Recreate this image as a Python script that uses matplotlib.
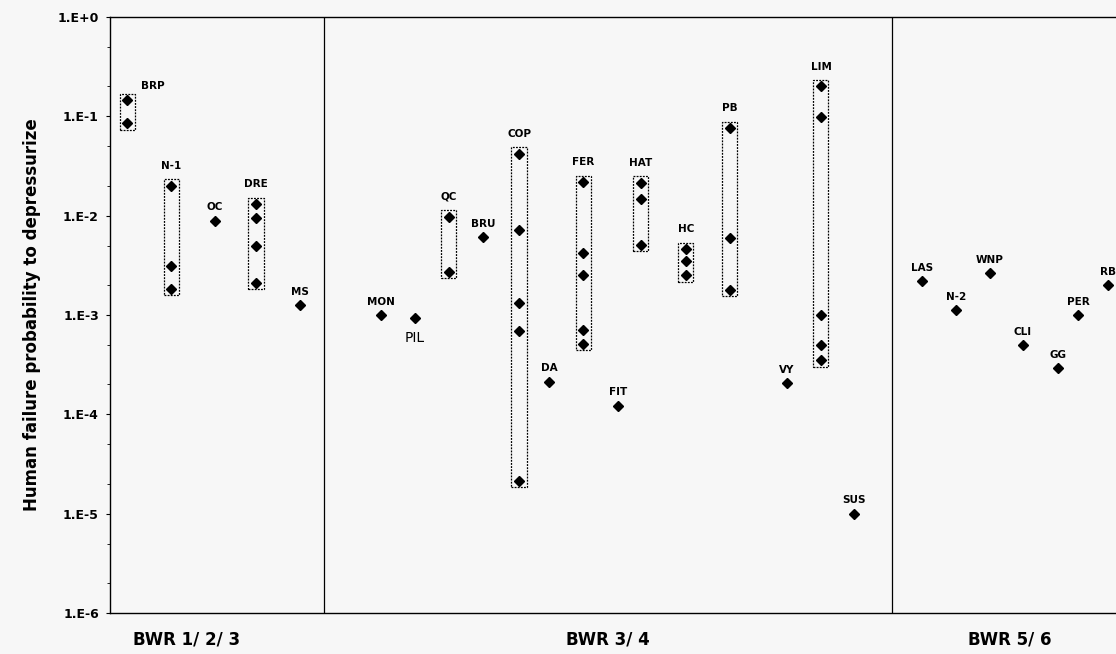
import matplotlib.pyplot as plt
from matplotlib.patches import Rectangle
from matplotlib.ticker import FixedLocator, LogLocator, NullFormatter

# plant codes, horizontal slots and estimated failure probabilities
plants = ["BRP", "N-1", "OC", "DRE", "MS",
          "MON", "PIL", "QC", "BRU", "COP", "DA", "FER", "FIT", "HAT", "HC",
          "PB", "VY", "LIM", "SUS",
          "LAS", "N-2", "WNP", "CLI", "GG", "PER", "RB"]
slots = [17, 61, 105, 146, 190,
         271, 305, 339, 373, 409, 439, 473, 508, 531, 576,
         620, 677, 711, 744,
         812, 846, 880, 913, 948, 968, 998]
values = [
    [0.146, 0.085],
    [0.020, 0.0031, 0.00184],
    [0.0089],
    [0.0131, 0.0095, 0.0049, 0.00212],
    [0.00125],
    [0.00099],
    [0.00093],
    [0.0098, 0.00272],
    [0.0061],
    [0.042, 0.0072, 0.00132, 0.00069, 2.14e-5],
    [0.000213],
    [0.0218, 0.0042, 0.0025, 0.00070, 0.00051],
    [0.000122],
    [0.0214, 0.0148, 0.0051],
    [0.0046, 0.0035, 0.0025],
    [0.076, 0.0059, 0.0018],
    [0.000207],
    [0.20, 0.099, 0.001, 0.0005, 0.00035],
    [1.0e-5],
    [0.0022],
    [0.00111],
    [0.00265],
    [0.000495],
    [0.000293],
    [0.00099],
    [0.002],
]

groups = ["BWR 1/ 2/ 3", "BWR 3/ 4", "BWR 5/ 6"]
group_centres = [77, 498, 900]
dividers = [214, 782]
yticks = [1e-6, 1e-5, 1e-4, 1e-3, 1e-2, 1e-1, 1e0]
ytick_labels = ["1.E-6", "1.E-5", "1.E-4", "1.E-3", "1.E-2", "1.E-1", "1.E+0"]

bg = "#f7f7f7"
fig = plt.figure(figsize=(11.16, 6.54), dpi=100, facecolor=bg)
ax = fig.add_axes([110 / 1116, 41 / 654, 1006 / 1116, 596 / 654], facecolor=bg)

ax.set_yscale("log")
ax.set_ylim(1e-6, 1)
ax.set_xlim(0, 1006)

for name, x, vals in zip(plants, slots, values):
    ax.plot([x] * len(vals), vals, linestyle="none", marker="D",
            markersize=5.5, color="black")
    top = max(vals)
    if len(vals) > 1:
        lo, hi = min(vals) / 1.16, top * 1.16
        ax.add_patch(Rectangle((x - 7.5, lo), 15, hi - lo, fill=False,
                               edgecolor="black", linewidth=0.9,
                               linestyle=(0, (1.5, 1))))
        top = hi
    if name == "BRP":
        ax.annotate(name, (x + 14, top), xytext=(0, 2), textcoords="offset points",
                    ha="left", va="bottom", fontsize=7.5, fontweight="bold")
    elif name == "PIL":
        ax.annotate(name, (x, top), xytext=(0, -9), textcoords="offset points",
                    ha="center", va="top", fontsize=10)
    else:
        ax.annotate(name, (x, top), xytext=(0, 6), textcoords="offset points",
                    ha="center", va="bottom", fontsize=7.5, fontweight="bold")

for d in dividers:
    ax.axvline(d, color="black", linewidth=0.9)

ax.yaxis.set_major_locator(FixedLocator(yticks))
ax.set_yticklabels(ytick_labels, fontsize=9, fontweight="bold")
ax.yaxis.set_minor_locator(LogLocator(base=10, subs=(2.0, 5.0)))
ax.yaxis.set_minor_formatter(NullFormatter())
ax.tick_params(axis="y", which="major", length=3, direction="out", pad=5)
ax.tick_params(axis="y", which="minor", length=2, direction="out")
ax.set_xticks([])

ax.spines["right"].set_visible(False)
for s in ["left", "top", "bottom"]:
    ax.spines[s].set_linewidth(1.0)

ax.set_ylabel("Human failure probability to depressurize", fontsize=12,
              fontweight="bold", labelpad=12)

for g, c in zip(groups, group_centres):
    ax.text(c, -0.045, g, transform=ax.get_xaxis_transform(), ha="center",
            va="center", fontsize=12, fontweight="bold")

fig.savefig("out.png", dpi=100, facecolor=bg)
